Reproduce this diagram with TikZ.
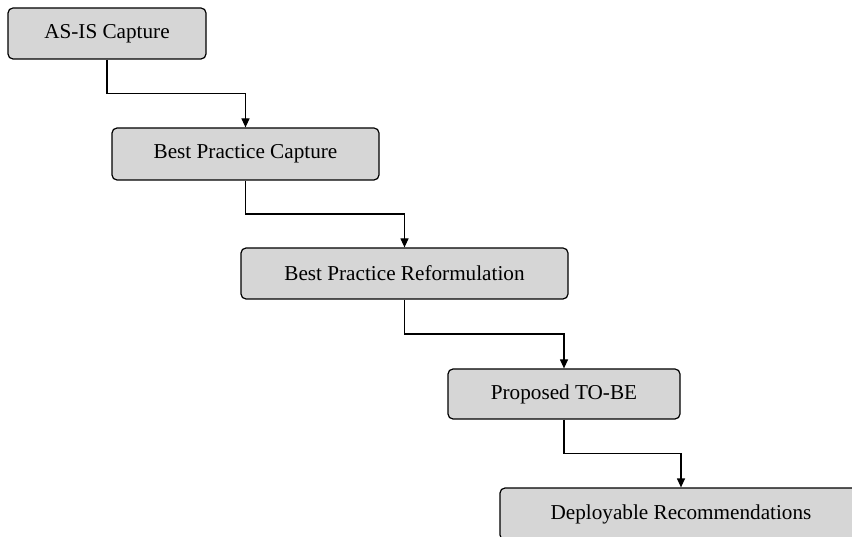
\documentclass[tikz,border=0pt]{standalone}
\usepackage{fontspec}
\setmainfont{Liberation Serif}
\usetikzlibrary{arrows.meta,calc}
\begin{document}
\begin{tikzpicture}[x=1pt,y=-1pt,
  stage/.style={draw=black, line width=1.2pt, fill=black!16, rounded corners=5pt,
    inner sep=0pt, font=\fontsize{21.2}{25}\selectfont},
  flow/.style={draw=black, line width=1.2pt, -{Triangle[length=9pt,width=8pt]}}]
\clip (0,0) rectangle (852,537);
\useasboundingbox (0,0) rectangle (852,537);
% process stages
\node[stage, minimum width=198pt, minimum height=51pt] (b1) at (107,33.5) {AS-IS Capture};
\node[stage, minimum width=267pt, minimum height=52pt] (b2) at (245.5,154) {Best Practice Capture};
\node[stage, minimum width=327pt, minimum height=51pt] (b3) at (404.5,273.5) {Best Practice Reformulation};
\node[stage, minimum width=232pt, minimum height=50pt] (b4) at (564,394) {Proposed TO-BE};
\node[stage, minimum width=362pt, minimum height=52pt] (b5) at (681,514) {Deployable Recommendations};
% step-down connectors
\foreach \a/\b in {b1/b2, b2/b3, b3/b4, b4/b5}{
  \draw[flow] (\a.south) |- ($(\a.south)!.5!(\b.north)$) -| (\b.north);
}
\end{tikzpicture}
\end{document}
